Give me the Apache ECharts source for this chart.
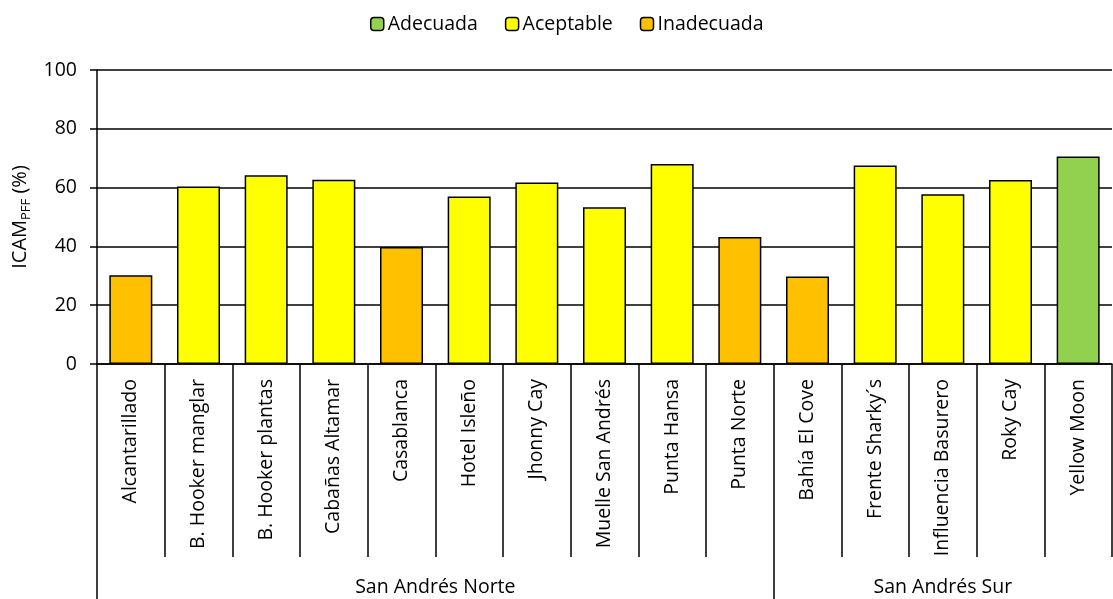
<!DOCTYPE html>
<html><head><meta charset="utf-8">
<script src="https://cdn.jsdelivr.net/npm/echarts@6/dist/echarts.min.js"></script>
<style>html,body{margin:0;padding:0;background:#fff}#c{width:1113px;height:599px}</style>
</head><body><div id="c"></div>
<script>
const categories = ["Alcantarillado","B. Hooker manglar","B. Hooker plantas","Cabañas Altamar","Casablanca","Hotel Isleño","Jhonny Cay","Muelle San Andrés","Punta Hansa","Punta Norte","Bahía El Cove","Frente Sharky´s","Influencia Basurero","Roky Cay","Yellow Moon"];
const values = [30.2, 60.4, 64.2, 62.7, 39.8, 57.0, 61.7, 53.3, 68.0, 43.2, 29.8, 67.5, 57.7, 62.6, 70.6];
const quality = ["Inadecuada","Aceptable","Aceptable","Aceptable","Inadecuada","Aceptable","Aceptable","Aceptable","Aceptable","Inadecuada","Inadecuada","Aceptable","Aceptable","Aceptable","Adecuada"];
const classes = ["Adecuada","Aceptable","Inadecuada"];
const classColors = {"Adecuada":"#92D050","Aceptable":"#FFFF00","Inadecuada":"#FFC000"};
const groupNames = ["San Andrés Norte","San Andrés Sur"];
const groupBounds = [0, 10, 15];
const yTicks = [0, 20, 40, 60, 80, 100];

const FONT = "Open Sans";
const chart = echarts.init(document.getElementById('c'));
const groupCenters = groupNames.map((g,i)=>(groupBounds[i]+groupBounds[i+1])/2);

const series = classes.map(cls => ({
  name: cls, type: 'bar', stack: 'all', barWidth: 43, xAxisIndex: 0,
  itemStyle: {color: classColors[cls], borderColor: '#000', borderWidth: 1.5},
  data: values.map((v,i)=> quality[i]===cls ? v : '-')
}));

chart.setOption({
  animation: false,
  textStyle: {fontFamily: FONT},
  legend: {
    top: 9, left: 365, itemWidth: 13, itemHeight: 13, itemGap: 27,
    data: classes.map(c=>({name:c, itemStyle:{borderColor:'#000', borderWidth:1.5}})),
    textStyle: {fontFamily: FONT, fontSize: 19.5, color: '#000', padding:[0,0,0,-1]}
  },
  grid: {left: 97, right: 1, top: 70, bottom: 235},
  xAxis: [{
    type: 'category', data: categories, position: 'bottom',
    axisLine: {show: true, lineStyle: {color: '#000', width: 1.5}},
    axisTick: {show: true, length: 193, lineStyle: {color: '#000', width: 1.5}},
    axisLabel: {rotate: 90, margin: 15, fontFamily: FONT, fontSize: 19.5, color: '#000', interval: 0}
  },{
    type: 'value', min: 0, max: 15, position: 'bottom', offset: 0,
    axisLine: {show: false},
    splitLine: {show: false},
    axisTick: {show: true, length: 235, customValues: groupBounds.slice(0,2), lineStyle: {color:'#000', width:1.5}},
    axisLabel: {customValues: groupCenters, margin: 213, fontFamily: FONT, fontSize: 19.5, color:'#000',
      formatter: v => { const i = groupCenters.indexOf(v); return i>=0 ? groupNames[i] : ''; }}
  }],
  yAxis: {
    type: 'value', min: 0, max: 100, interval: 20,
    name: '{a|ICAM}{b|PFF}{a| (%)}', nameLocation: 'middle', nameGap: 61, nameRotate: 90,
    nameTextStyle: {rich: {a: {fontFamily: FONT, fontSize: 20, color:'#000'}, b: {fontFamily: FONT, fontSize: 13, color:'#000', verticalAlign:'bottom', padding:[11,0,0,0]}}},
    axisLine: {show: true, lineStyle: {color:'#000', width: 1.5}},
    axisTick: {show: true, length: 7, lineStyle: {color:'#000', width:1.5}},
    axisLabel: {fontFamily: FONT, fontSize: 19.5, color:'#000', margin: 20, formatter: v => yTicks.includes(v) ? String(v) : ''},
    splitLine: {show: true, lineStyle: {color:'#000', width: 1.5}}
  },
  series: series
});
</script></body></html>
